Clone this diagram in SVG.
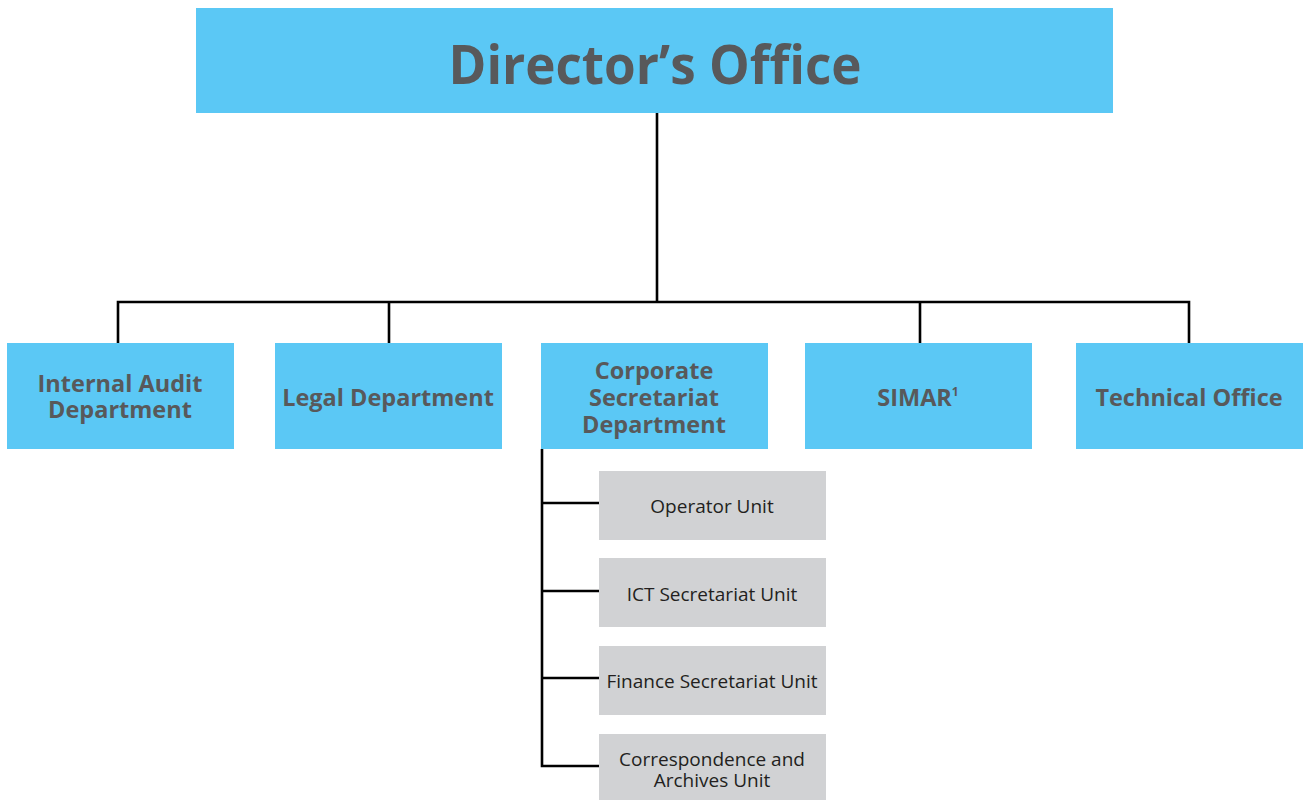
<svg xmlns="http://www.w3.org/2000/svg" width="1303" height="800" viewBox="0 0 1303 800">
<style>
.blue{fill:#5BC8F5}
.gray{fill:#D1D2D4}
.t{font-family:"Open Sans","Liberation Sans",sans-serif;fill:#58595B;text-anchor:middle}
.b{font-weight:bold}
.dept{font-size:23.5px;font-weight:bold}
.unit{font-size:19px;fill:#231F20}
.ln{stroke:#000;stroke-width:2.6;fill:none}
</style>
<rect width="1303" height="800" fill="#fff"/>
<g id="connectors">
<path class="ln" d="M657 113V302M118 343V302H1189V343M389 302V343M920 302V343"/>
<path class="ln" d="M542 449V766H599M542 503H599M542 591H599M542 678H599"/>
</g>
<g id="director"><rect class="blue" x="196" y="8" width="917" height="105"/><text class="t b" x="655" y="84" font-size="54" textLength="413" lengthAdjust="spacingAndGlyphs">Director’s Office</text></g>
<g id="audit"><rect class="blue" x="7" y="343" width="227" height="106"/><text class="t dept" x="120" y="392">Internal Audit<tspan x="120" y="418">Department</tspan></text></g>
<g id="legal"><rect class="blue" x="275" y="343" width="227" height="106"/><text class="t dept" x="388" y="406">Legal Department</text></g>
<g id="corporate"><rect class="blue" x="541" y="343" width="227" height="106"/><text class="t dept" x="654" y="379">Corporate<tspan x="654" y="406">Secretariat</tspan><tspan x="654" y="433">Department</tspan></text></g>
<g id="simar"><rect class="blue" x="805" y="343" width="227" height="106"/><text class="t dept" x="918" y="406">SIMAR<tspan font-size="12" dy="-10">1</tspan></text></g>
<g id="technical"><rect class="blue" x="1076" y="343" width="227" height="106"/><text class="t dept" x="1189" y="406">Technical Office</text></g>
<g id="operator"><rect class="gray" x="599" y="471" width="227" height="69"/><text class="t unit" x="712" y="513">Operator Unit</text></g>
<g id="ict"><rect class="gray" x="599" y="558" width="227" height="69"/><text class="t unit" x="712" y="601">ICT Secretariat Unit</text></g>
<g id="finance"><rect class="gray" x="599" y="646" width="227" height="69"/><text class="t unit" x="712" y="688">Finance Secretariat Unit</text></g>
<g id="archives"><rect class="gray" x="599" y="734" width="227" height="66"/><text class="t unit" x="712" y="766">Correspondence and<tspan x="712" y="787">Archives Unit</tspan></text></g>
</svg>
